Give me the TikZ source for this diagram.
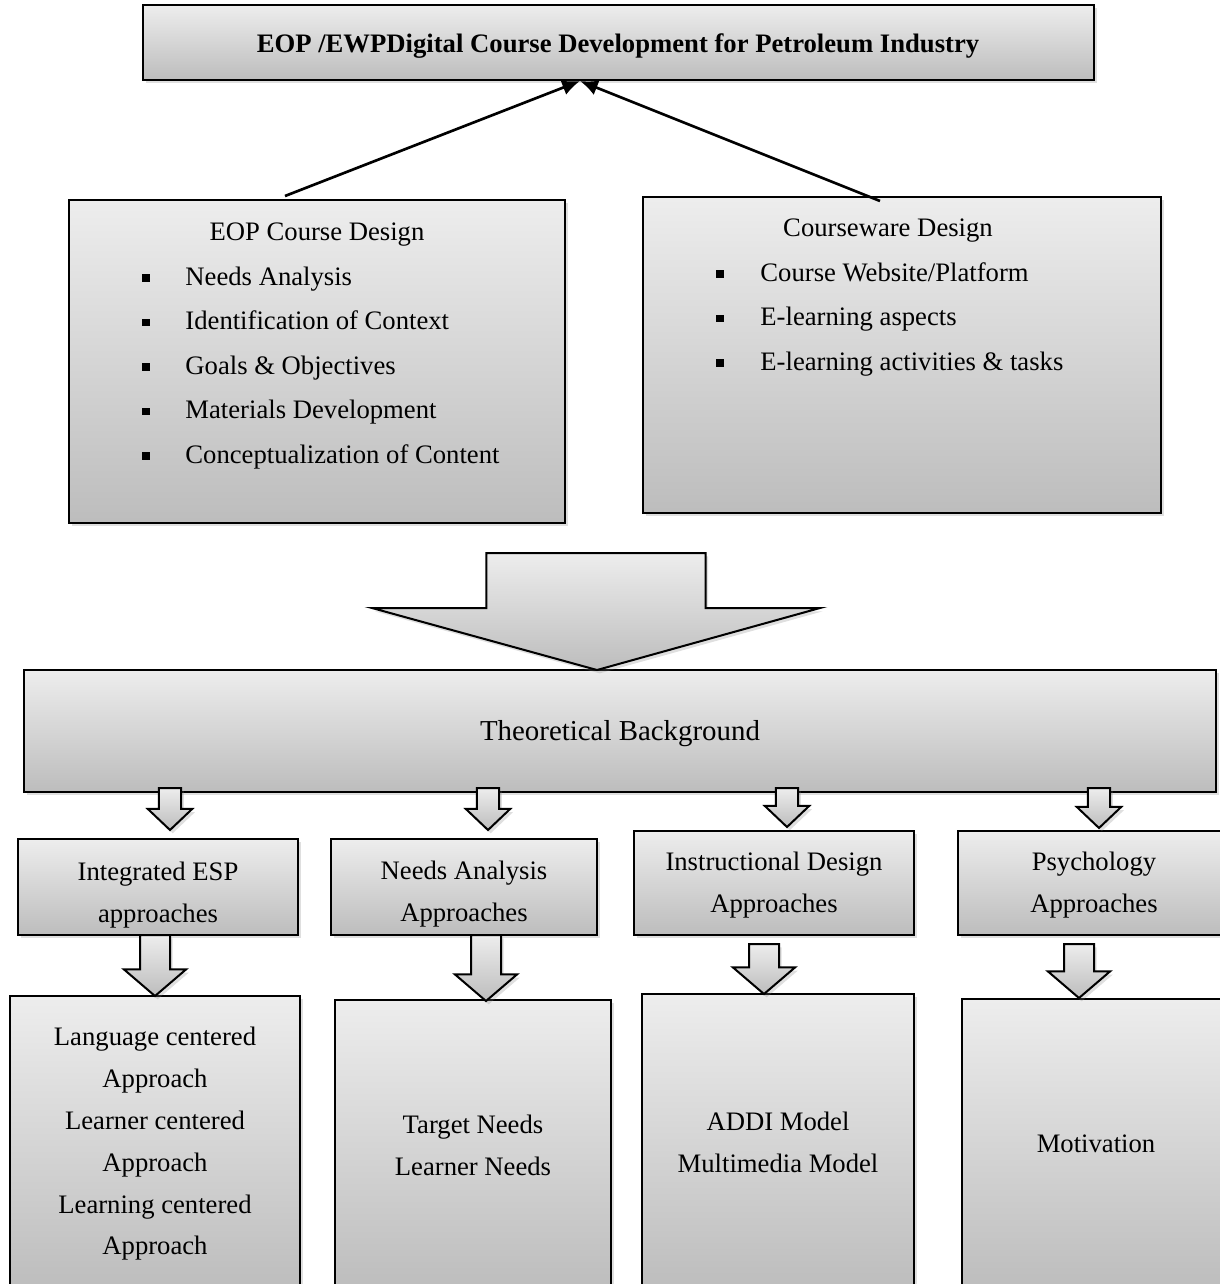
\documentclass[tikz,border=0pt]{standalone}
\usepackage{fontspec}
\setmainfont{Liberation Serif}
\usepackage{tikz}
\usetikzlibrary{arrows.meta,shadows,fit,calc}

\definecolor{boxtop}{gray}{0.93}
\definecolor{boxbot}{gray}{0.74}

\newcommand{\blockarrow}[5]{%
  \draw[blockarr] let \p1=(#1), \p2=(#2) in
    (\x1-#3,\y1) -- (\x1+#3,\y1) -- (\x1+#3,\y2+#5) -- (\x1+#4,\y2+#5)
    -- (\x2,\y2) -- (\x1-#4,\y2+#5) -- (\x1-#3,\y2+#5) -- cycle;}

\begin{document}
\begin{tikzpicture}[x=0.45pt,y=-0.45pt,font=\fontsize{12}{18.8}\selectfont]
  \tikzstyle{box} = [draw=black,line width=0.9pt,top color=boxtop,bottom color=boxbot,
      drop shadow={opacity=0.25,shadow xshift=1.2pt,shadow yshift=-1.5pt},inner sep=0pt]
  \tikzstyle{blockarr} = [draw=black,line width=0.9pt,top color=boxtop,bottom color=boxbot,
      drop shadow={opacity=0.25,shadow xshift=1.2pt,shadow yshift=-1.5pt}]
  \tikzstyle{txt} = [align=center,inner sep=0pt]
  \tikzstyle{item} = [anchor=west,inner sep=0pt,text height=8pt,text depth=2.5pt]
  \tikzstyle{bullet} = [fill=black,inner sep=0pt,minimum size=3.2pt]
  \tikzstyle{conn} = [-{Latex[length=8pt,width=7pt]},line width=1.2pt]

  \useasboundingbox (0,0) rectangle (1219,1284);

  \node[box,fit={(143,5) (1094,80)}] (title) {};
  \node[txt] (titletxt) at (618,46)
    {\textbf{EOP /EWPDigital Course Development for Petroleum Industry}};

  % design boxes
  \node[box,fit={(69,200) (565,523)}] (eop) {};
  \node (eophead) at (317,235) {EOP Course Design};
  \foreach \txt [count=\i] in {Needs Analysis,Identification of Context,
      Goals \& Objectives,Materials Development,Conceptualization of Content} {
    \node[bullet] (eopb\i) at (146,233.5+44.5*\i) {};
    \node[item] (eopi\i) at (185,234.5+44.5*\i) {\txt};
  }
  \node[box,fit={(643,197) (1161,513)}] (cw) {};
  \node (cwhead) at (888,231) {Courseware Design};
  \foreach \txt [count=\i] in {Course Website/Platform,E-learning aspects,
      E-learning activities \& tasks} {
    \node[bullet] (cwb\i) at (720,229.5+44.5*\i) {};
    \node[item] (cwi\i) at (760,230.5+44.5*\i) {\txt};
  }

  \coordinate (eopout) at (285,196);
  \coordinate (cwout) at (880,201);
  \coordinate (titlein) at (580,81);
  \draw[conn] (eopout) -- (titlein);
  \draw[conn] (cwout) -- (titlein);

  % theory
  \node[box,fit={(24,670) (1216,792)}] (theory) {};
  \node[txt,font=\fontsize{13}{16}\selectfont] (theorytxt) at (620,734) {Theoretical Background};
  \coordinate (bigtop) at (596,553);
  \coordinate (bigtip) at (597,670);
  \blockarrow{bigtop}{bigtip}{49.3pt}{100.8pt}{27.9pt}

  \node[box,fit={(18,839) (298,935)}] (integ) {};
  \node[txt] (integtxt) at (158,895) {Integrated ESP\\approaches};
  \node[box,fit={(331,839) (597,935)}] (needs) {};
  \node[txt] (needstxt) at (464,894) {Needs Analysis\\Approaches};
  \node[box,fit={(634,831) (914,935)}] (instr) {};
  \node[txt] (instrtxt) at (774,885) {Instructional Design\\Approaches};
  \node[box,fit={(958,831) (1240,935)}] (psych) {};
  \node[txt] (psychtxt) at (1094,885) {Psychology\\Approaches};
  \foreach \cx/\tip [count=\i] in {170/830,488/830,787/827,1099/828} {
    \coordinate (ta\i) at (\cx,788);
    \coordinate (tb\i) at (\cx,\tip);
    \blockarrow{ta\i}{tb\i}{5pt}{10pt}{9.5pt}
  }

  \node[box,fit={(10,996) (300,1290)}] (lang) {};
  \node[txt] (langtxt) at (155,1144)
    {Language centered\\Approach\\Learner centered\\Approach\\Learning centered\\Approach};
  \node[box,fit={(335,1000) (611,1290)}] (target) {};
  \node[txt] (targettxt) at (473,1145) {Target Needs\\Learner Needs};
  \node[box,fit={(642,994) (914,1290)}] (addi) {};
  \node[txt] (additxt) at (778,1142) {ADDI Model\\Multimedia Model};
  \node[box,fit={(962,999) (1240,1290)}] (motiv) {};
  \node[txt] (motivtxt) at (1096,1144) {Motivation};
  \foreach \cx/\ya/\yb [count=\i] in {155/935/996,486/935/1001,764/944/994,1079/944/998} {
    \coordinate (ra\i) at (\cx,\ya);
    \coordinate (rb\i) at (\cx,\yb);
    \blockarrow{ra\i}{rb\i}{6.75pt}{14pt}{12pt}
  }
\end{tikzpicture}
\end{document}
